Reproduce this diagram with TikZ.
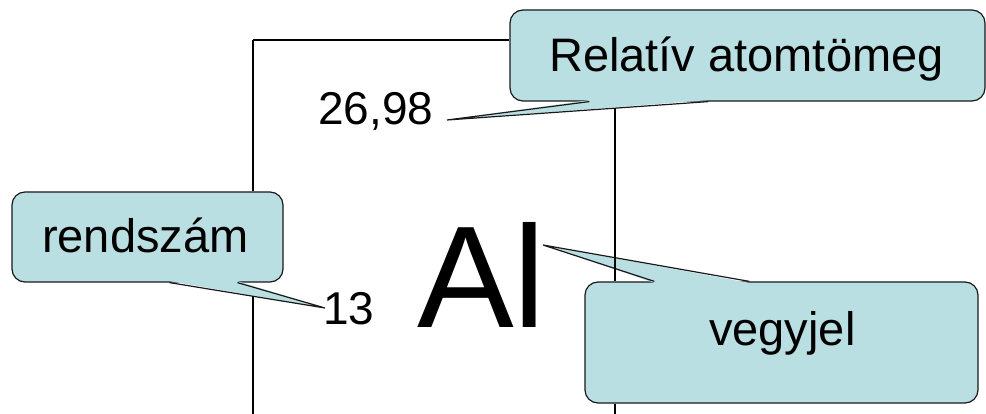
\documentclass[tikz,border=0pt]{standalone}
\usepackage{fontspec}
\setmainfont{Liberation Sans}
\usetikzlibrary{calc}
\definecolor{callfill}{RGB}{186,223,227}
\definecolor{callline}{RGB}{25,25,25}
\tikzset{
  callbox/.style={rectangle, rounded corners=13pt, fill=callfill, draw=callline,
    line width=1.2pt, inner sep=0pt},
  tailfill/.style={fill=callfill, draw=none},
  tailline/.style={draw=callline, line width=1.2pt, line join=miter},
  label/.style={inner sep=0pt, anchor=base west, font=\fontsize{47}{52}\selectfont},
  elemline/.style={draw=black, line width=1.4pt},
}
\begin{document}
\begin{tikzpicture}[x=1pt, y=-1pt]
  \useasboundingbox (0,0) rectangle (986,414);

  % element card corners
  \coordinate (cardtl) at (253,40);
  \coordinate (cardtr) at (615,40);

  % texts of the card
  \node[label] (mass) at (318,125) {\fontsize{46}{50}\selectfont 26,98};
  \node[label] (num) at (323,325) {\fontsize{46}{50}\selectfont 13};
  \node[inner sep=0pt, anchor=base west, font=\fontsize{145}{150}\selectfont] (sym) at (417,327) {Al};

  % callout tips
  \coordinate (masstip) at (447,120);
  \coordinate (numtip) at (325,308);
  \coordinate (symtip) at (543,245);

  % callout boxes
  \node[callbox, minimum width=475pt, minimum height=91pt] (relbox) at (747.5,55.5) {};
  \node[callbox, minimum width=271pt, minimum height=90pt] (rszbox) at (147.5,237) {};
  \node[callbox, minimum width=393pt, minimum height=121pt] (vjbox) at (781.5,342.5) {};

  % callout tails
  \fill[tailfill] ($(relbox.south west)+(80,-1.5)$) -- (masstip) -- ($(relbox.south west)+(199,-1.5)$) -- cycle;
  \draw[tailline] ($(relbox.south west)+(80,0)$) -- (masstip) -- ($(relbox.south west)+(199,0)$);

  \fill[tailfill] ($(rszbox.south west)+(158,-1.5)$) -- (numtip) -- ($(rszbox.south west)+(226,-1.5)$) -- cycle;
  \draw[tailline] ($(rszbox.south west)+(158,0)$) -- (numtip) -- ($(rszbox.south west)+(226,0)$);

  \fill[tailfill] ($(vjbox.north west)+(70,1.5)$) -- (symtip) -- ($(vjbox.north west)+(165,1.5)$) -- cycle;
  \draw[tailline] ($(vjbox.north west)+(70,0)$) -- (symtip) -- ($(vjbox.north west)+(165,0)$);

  % callout texts
  \node[label] (reltext) at (549,72) {Relatív atomtömeg};
  \node[label] (rsztext) at (42,253) {rendszám};
  \node[label] (vjtext) at (709,345) {vegyjel};

  % visible parts of the card outline
  \draw[elemline] (cardtl) -- (relbox.west |- cardtl);
  \draw[elemline] (cardtl) -- (cardtl |- rszbox.north);
  \draw[elemline] ($(cardtl)+(0,256)$) -- (253,414);
  \draw[elemline] (615,108) -- (cardtr |- vjbox.north);
  \draw[elemline] (cardtr |- vjbox.south) -- (615,414);
\end{tikzpicture}
\end{document}
